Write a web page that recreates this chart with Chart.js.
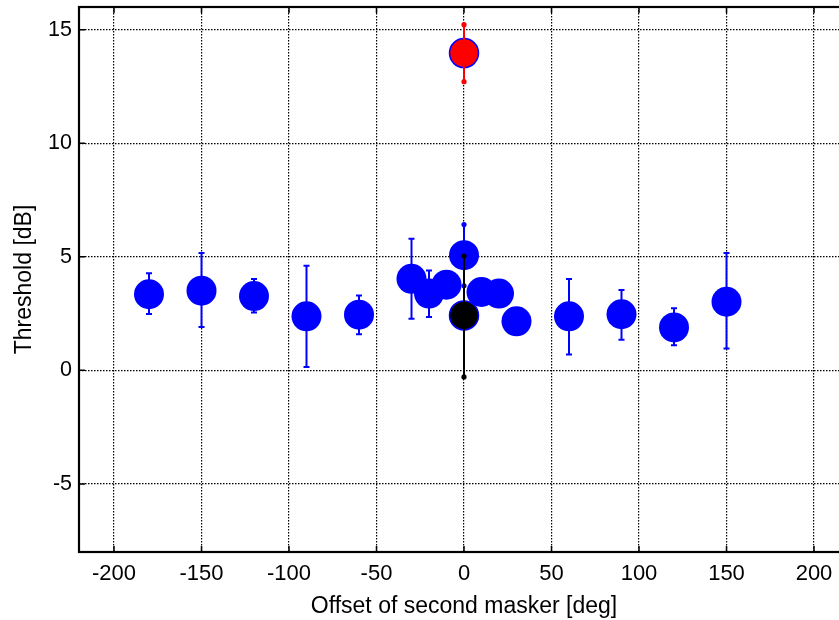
<!DOCTYPE html>
<html>
<head>
<meta charset="utf-8">
<script src="https://cdn.jsdelivr.net/npm/chart.js@4/dist/chart.umd.min.js"></script>
<style>
  html, body { margin: 0; padding: 0; background: #fff; overflow: hidden; }
  #wrap { position: absolute; left: 0; top: 0; width: 852px; height: 620px; }
</style>
</head>
<body>
<div id="wrap"><canvas id="thresholdChart" width="852" height="620"></canvas></div>
<script>
// --- Data ---
const blueAngles = [-180, -150, -120, -90, -60, -30, -20, -10, 10, 20, 30, 60, 90, 120, 150];
const blueMeans  = [3.35, 3.51, 3.27, 2.38, 2.45, 4.03, 3.38, 3.77, 3.45, 3.38, 2.16, 2.38, 2.47, 1.89, 3.02];
const blueLow    = [2.48, 1.91, 2.55, 0.15, 1.59, 2.27, 2.35, 3.40, 3.10, 3.00, 1.80, 0.70, 1.35, 1.11, 0.96];
const blueHigh   = [4.27, 5.17, 4.02, 4.61, 3.30, 5.80, 4.40, 4.15, 3.80, 3.75, 2.50, 4.02, 3.54, 2.73, 5.17];

const centerAngle = [0];
const blueZeroMean = [5.07], blueZeroLow = [3.72], blueZeroHigh = [6.42];
const blackMean = [2.42], blackLow = [-0.29], blackHigh = [5.03];
const redMean = [13.97], redLow = [12.71], redHigh = [15.22];

const xTitle = 'Offset of second masker [deg]';
const yTitle = 'Threshold [dB]';

const FONT = "'Liberation Sans', Arial, Helvetica, sans-serif";
const BLUE = '#0000ff';

const pts = (xs, ys) => xs.map((x, i) => ({ x: x, y: ys[i] }));

// --- Error bars drawn per dataset so stacking follows dataset order ---
const errorBars = {
    id: 'errorBars',
    afterDatasetDraw(chart, args) {
        const ds = chart.data.datasets[args.index];
        if (!ds.errLow) return;
        const xs = chart.scales.x, ys = chart.scales.y;
        const ctx = chart.ctx;
        ctx.save();
        ctx.strokeStyle = ds.errColor;
        ctx.fillStyle = ds.errColor;
        ctx.lineWidth = 2;
        ds.data.forEach((p, i) => {
            const px = xs.getPixelForValue(p.x);
            const yl = ys.getPixelForValue(ds.errLow[i]);
            const yh = ys.getPixelForValue(ds.errHigh[i]);
            ctx.beginPath();
            ctx.moveTo(px, yl);
            ctx.lineTo(px, yh);
            ctx.stroke();
            if (ds.errEnd === 'dot') {
                [yl, yh].forEach(yy => {
                    ctx.beginPath();
                    ctx.arc(px, yy, 2.6, 0, Math.PI * 2);
                    ctx.fill();
                });
            } else {
                ctx.beginPath();
                ctx.moveTo(px - 3, yl); ctx.lineTo(px + 3, yl);
                ctx.moveTo(px - 3, yh); ctx.lineTo(px + 3, yh);
                ctx.stroke();
            }
        });
        ctx.restore();
    }
};

// --- Box frame and inward tick marks ---
const frame = {
    id: 'frame',
    afterDraw(chart) {
        const { ctx, chartArea: a } = chart;
        const xs = chart.scales.x, ys = chart.scales.y;
        ctx.save();
        ctx.strokeStyle = '#000';
        ctx.lineWidth = 1.5;
        ctx.beginPath();
        xs.ticks.forEach(t => {
            const px = xs.getPixelForValue(t.value);
            ctx.moveTo(px, a.bottom); ctx.lineTo(px, a.bottom - 6);
            ctx.moveTo(px, a.top); ctx.lineTo(px, a.top + 6);
        });
        ys.ticks.forEach(t => {
            const py = ys.getPixelForValue(t.value);
            ctx.moveTo(a.left, py); ctx.lineTo(a.left + 6, py);
            ctx.moveTo(a.right, py); ctx.lineTo(a.right - 6, py);
        });
        ctx.stroke();
        ctx.lineWidth = 2.2;
        ctx.strokeRect(a.left, a.top, a.right - a.left, a.bottom - a.top);
        ctx.restore();
    }
};

new Chart(document.getElementById('thresholdChart'), {
    type: 'scatter',
    data: {
        datasets: [
            {
                label: 'red', data: pts(centerAngle, redMean),
                errLow: redLow, errHigh: redHigh, errColor: '#ff0000', errEnd: 'dot',
                backgroundColor: '#ff0000', borderColor: BLUE, borderWidth: 1.5,
                pointRadius: 14.5, pointHoverRadius: 14.5
            },
            {
                label: 'black', data: pts(centerAngle, blackMean),
                errLow: blackLow, errHigh: blackHigh, errColor: '#000000', errEnd: 'dot',
                backgroundColor: '#000000', borderColor: BLUE, borderWidth: 1.5,
                pointRadius: 14.5, pointHoverRadius: 14.5
            },
            {
                label: 'blue0', data: pts(centerAngle, blueZeroMean),
                errLow: blueZeroLow, errHigh: blueZeroHigh, errColor: BLUE, errEnd: 'dot',
                backgroundColor: BLUE, borderColor: BLUE, borderWidth: 0,
                pointRadius: 15, pointHoverRadius: 15
            },
            {
                label: 'blue', data: pts(blueAngles, blueMeans),
                errLow: blueLow, errHigh: blueHigh, errColor: BLUE, errEnd: 'cap',
                backgroundColor: BLUE, borderColor: BLUE, borderWidth: 0,
                pointRadius: 15, pointHoverRadius: 15
            }
        ]
    },
    options: {
        responsive: false,
        animation: false,
        layout: { autoPadding: false, padding: { top: 7, right: 3, left: 0, bottom: 0 } },
        plugins: { legend: { display: false }, tooltip: { enabled: false } },
        scales: {
            x: {
                type: 'linear', min: -220, max: 220,
                afterFit: s => { s.height = 68; s.paddingLeft = 0; s.paddingRight = 0; },
                ticks: {
                    stepSize: 50, includeBounds: false, color: '#000', padding: 9,
                    font: { family: FONT, size: 22 }
                },
                grid: { color: '#000', lineWidth: 1.2, drawTicks: false },
                border: { display: false, dash: [1.5, 1.5] },
                title: {
                    display: true, text: xTitle, color: '#000',
                    font: { family: FONT, size: 23 }, padding: { top: 0, bottom: 0 }
                }
            },
            y: {
                type: 'linear', min: -8, max: 16,
                afterFit: s => { s.width = 79; s.paddingTop = 0; s.paddingBottom = 0; },
                ticks: {
                    stepSize: 5, includeBounds: false, color: '#000', padding: 7,
                    font: { family: FONT, size: 21.5 }
                },
                grid: { color: '#000', lineWidth: 1.2, drawTicks: false },
                border: { display: false, dash: [1.5, 1.5] },
                title: {
                    display: true, text: yTitle, color: '#000',
                    font: { family: FONT, size: 23 }, padding: { top: 11, bottom: 0 }
                }
            }
        }
    },
    plugins: [errorBars, frame]
});
</script>
</body>
</html>
